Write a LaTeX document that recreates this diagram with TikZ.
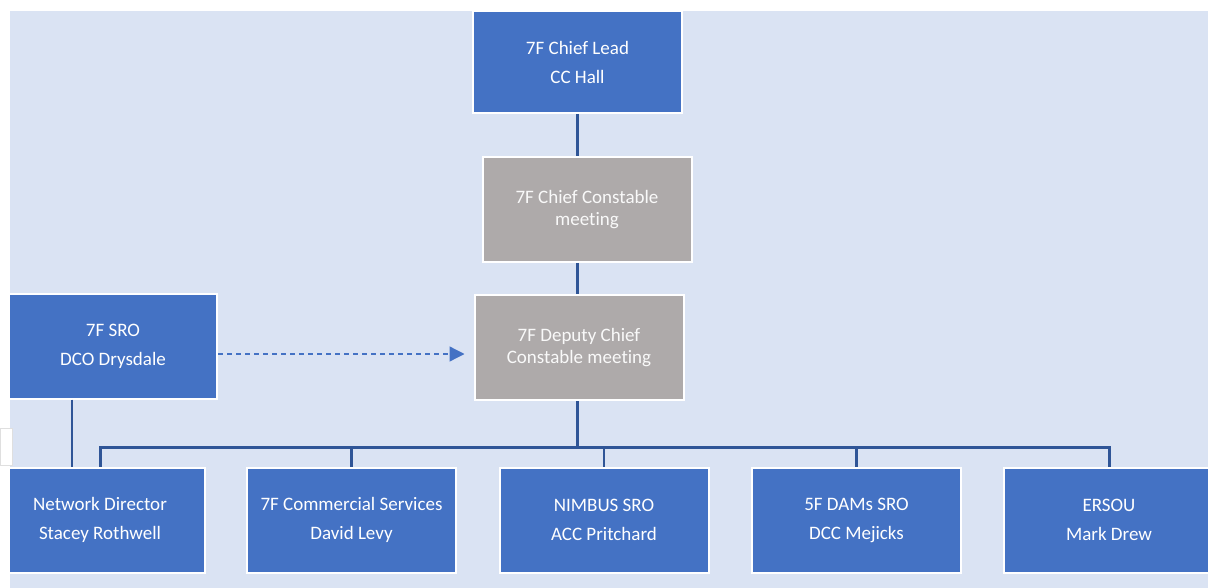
\documentclass[tikz,border=0pt]{standalone}
\usepackage{fontspec}
\setmainfont{Carlito}[Ligatures=NoCommon]
\usetikzlibrary{arrows.meta}
\definecolor{boxblue}{HTML}{4472C4}
\definecolor{boxgray}{HTML}{AEAAAA}
\definecolor{bgblue}{HTML}{DAE3F3}
\definecolor{linkblue}{HTML}{2F5597}

\begin{document}
\begin{tikzpicture}[x=1pt,y=-1pt,
box/.style={draw=white,line width=2pt,fill=boxblue,text=white,align=center,
minimum width=209pt,minimum height=105pt,inner sep=0pt,font=\fontsize{19}{29}\selectfont},
meet/.style={box,fill=boxgray,text=white!95!gray,font=\fontsize{19}{22}\selectfont},
link/.style={linkblue,line width=3pt},
drop/.style={link,line width=2.5pt},
dasharrow/.style={boxblue,line width=1.3pt,dash pattern=on 5pt off 4pt,-{Triangle[length=15pt,width=15pt]}}]
\useasboundingbox (0,0) rectangle (1208,588);
\fill[white] (0,0) rectangle (1208,588);
\fill[bgblue] (10,11) rectangle (1208,588);
\node[box,minimum height=102pt] (lead) at (577.5,62) {7F Chief Lead\\CC Hall};
\node[meet] (ccm) at (587,209.5) {7F Chief Constable\\meeting};
\node[meet] (dccm) at (579,347.5) {7F Deputy Chief\\Constable meeting};
\node[box,minimum width=208pt] (sro) at (113,346) {7F SRO\\DCO Drysdale};
\node[box,minimum width=210pt] (netdir) at (100,520) {Network Director\\Stacey Rothwell};
\node[box] (comm) at (351.5,520) {7F Commercial Services\\David Levy};
\node[box] (nimbus) at (604,520) {NIMBUS SRO\\ACC Pritchard};
\node[box] (dams) at (856.5,520) {5F DAMs SRO\\DCC Mejicks};
\node[box,minimum width=210pt] (ersou) at (1109,520) {ERSOU\\Mark Drew};
\coordinate (spine) at (577,447);
\draw[link] (lead.south -| spine) -- (ccm.north -| spine);
\draw[link] (ccm.south -| spine) -- (dccm.north -| spine);
\draw[link] (dccm.south -| spine) -- (spine);
\draw[link] (netdir.north) -- (netdir.north |- spine) -- (ersou.north |- spine) -- (ersou.north);
\foreach \n in {comm,nimbus,dams}
  \draw[drop] (\n.north |- spine) -- (\n.north);
\draw[drop] ([xshift=-41pt]sro.south) -- ([xshift=-41pt]sro.south |- netdir.north);
\draw[dasharrow,shorten >=9pt] ([yshift=-8pt]sro.east) -- ([yshift=-8pt]sro.east -| dccm.west);
\fill[white] (0,0) rectangle (1208,11);
\fill[white] (0,0) rectangle (10,588);
\draw[gray!25,fill=white] (0,428) rectangle (12.5,465);
\end{tikzpicture}
\end{document}
